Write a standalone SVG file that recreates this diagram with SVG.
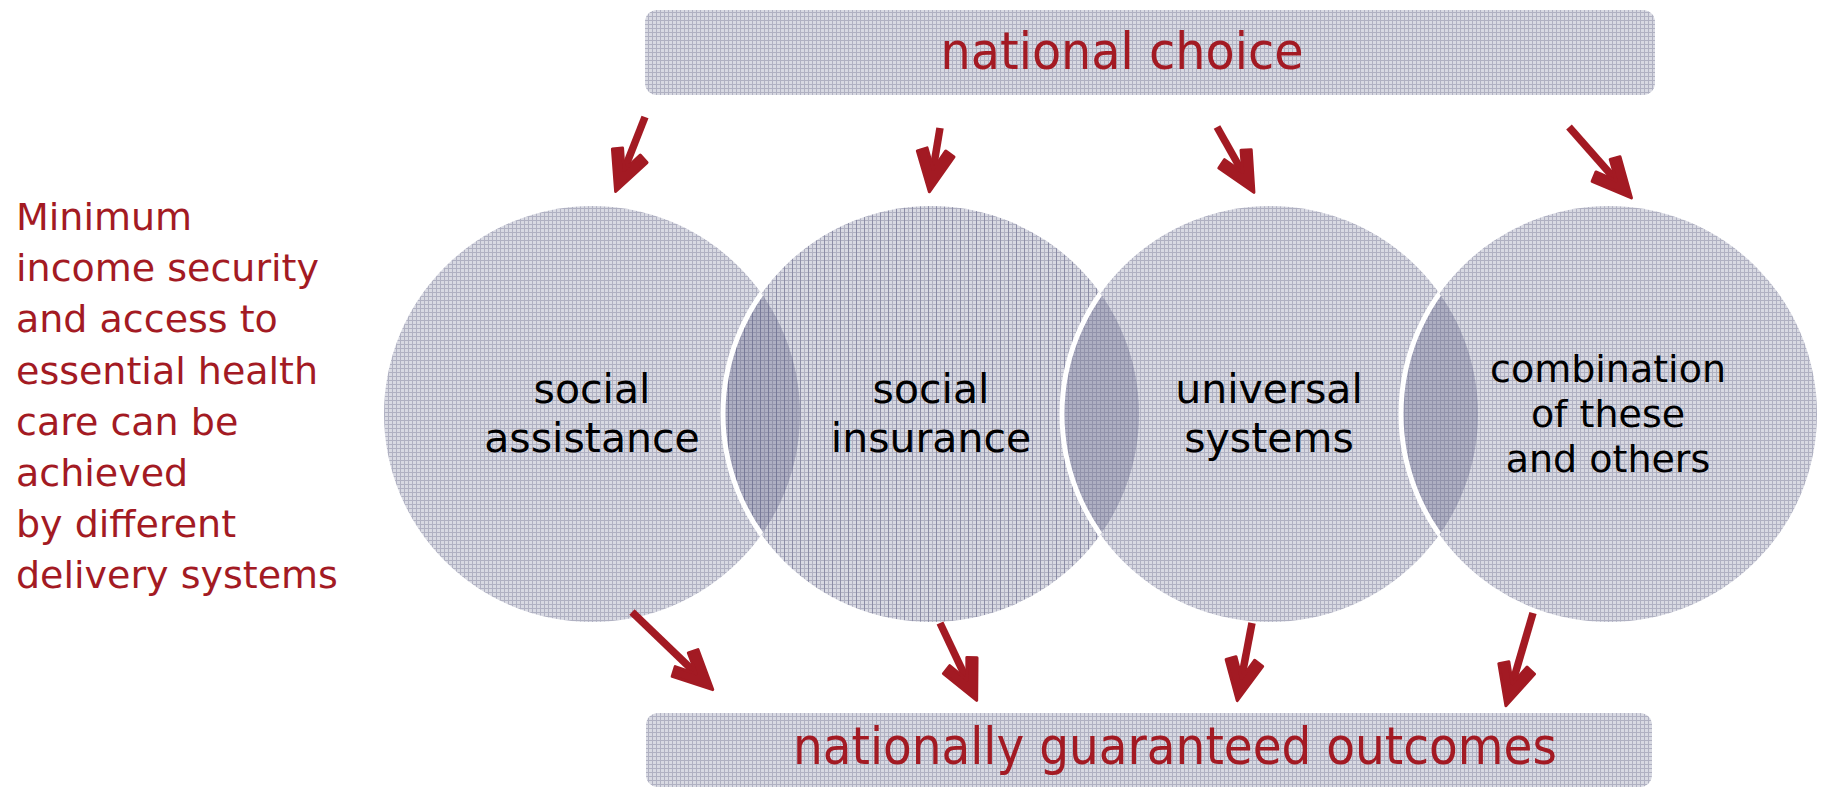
<svg xmlns="http://www.w3.org/2000/svg" width="1824" height="788" viewBox="0 0 1824 788">
<style>
.red{fill:#a31a23;font-family:"DejaVu Sans","Verdana",sans-serif}
.side{font-size:38px}
.box{font-size:52px;text-anchor:middle}
.ct{fill:#000;font-family:"DejaVu Sans","Verdana",sans-serif;text-anchor:middle}
.arrow{stroke:#a31a23;stroke-width:7.5;fill:none;marker-end:url(#head)}
.lens{fill:#4d4f78;fill-opacity:0.3}
.arc{fill:none;stroke:#ffffff;stroke-width:5}
</style>
<defs>
<pattern id="tex" width="4" height="4" patternUnits="userSpaceOnUse">
<rect width="4" height="4" fill="#d8d9e2"/>
<rect width="4" height="1" fill="#b0b1c2"/>
<rect width="1" height="4" fill="#b0b1c2"/>
</pattern>
<pattern id="tex2" width="8" height="4" patternUnits="userSpaceOnUse">
<rect width="8" height="4" fill="#d8d9e2"/>
<rect width="8" height="1" fill="#b0b1c2"/>
<rect x="4" width="1" height="4" fill="#b0b1c2"/>
<rect width="1" height="4" fill="#8c8da6"/>
</pattern>
<marker id="head" markerUnits="userSpaceOnUse" orient="auto" refX="0" refY="0" markerWidth="60" markerHeight="60" viewBox="-25 -25 50 50" overflow="visible">
<path d="M19,0 L-13,-15.5 L-16.8,-7.9 L0,0 L-16.8,7.9 L-13,15.5 Z" fill="#a31a23" stroke="#a31a23" stroke-width="2.5" stroke-linejoin="round"/>
</marker>
<clipPath id="c1"><circle cx="592" cy="414" r="208"/></clipPath>
<clipPath id="c2"><circle cx="931" cy="414" r="208"/></clipPath>
<clipPath id="c3"><circle cx="1270" cy="414" r="208"/></clipPath>
</defs>

<g id="left-text">
<text class="red side" x="16" y="230">Minimum</text>
<text class="red side" x="16" y="281">income security</text>
<text class="red side" x="16" y="332">and access to</text>
<text class="red side" x="16" y="384">essential health</text>
<text class="red side" x="16" y="435">care can be</text>
<text class="red side" x="16" y="486">achieved</text>
<text class="red side" x="16" y="537">by different</text>
<text class="red side" x="16" y="588">delivery systems</text>
</g>

<g id="national-choice">
<rect x="645" y="10" width="1010" height="85" rx="12" fill="url(#tex)"/>
<text class="red box" x="1122" y="69" textLength="363" lengthAdjust="spacingAndGlyphs">national choice</text>
</g>

<g id="outcomes">
<rect x="646" y="713" width="1006" height="74" rx="12" fill="url(#tex)"/>
<text class="red box" x="1175" y="764" textLength="764" lengthAdjust="spacingAndGlyphs">nationally guaranteed outcomes</text>
</g>

<g id="circles">
<g id="social-assistance">
<circle cx="592" cy="414" r="208" fill="url(#tex)"/>
</g>
<g id="social-insurance">
<circle cx="931" cy="414" r="208" fill="url(#tex2)"/>
</g>
<g id="universal-systems">
<circle cx="1270" cy="414" r="208" fill="url(#tex)"/>
</g>
<g id="combination">
<circle cx="1609" cy="414" r="208" fill="url(#tex)"/>
</g>
<g id="overlaps">
<circle cx="931" cy="414" r="208" class="lens" clip-path="url(#c1)"/>
<circle cx="1270" cy="414" r="208" class="lens" clip-path="url(#c2)"/>
<circle cx="1609" cy="414" r="208" class="lens" clip-path="url(#c3)"/>
<circle cx="931" cy="414" r="208" class="arc" clip-path="url(#c1)"/>
<circle cx="1270" cy="414" r="208" class="arc" clip-path="url(#c2)"/>
<circle cx="1609" cy="414" r="208" class="arc" clip-path="url(#c3)"/>
</g>
<g id="labels">
<text class="ct" font-size="41" x="592" y="403">social</text>
<text class="ct" font-size="41" x="592" y="452">assistance</text>
<text class="ct" font-size="41" x="931" y="403">social</text>
<text class="ct" font-size="41" x="931" y="452">insurance</text>
<text class="ct" font-size="41" x="1269" y="403">universal</text>
<text class="ct" font-size="41" x="1269" y="452">systems</text>
<text class="ct" font-size="38" x="1608" y="382">combination</text>
<text class="ct" font-size="38" x="1608" y="427">of these</text>
<text class="ct" font-size="38" x="1608" y="472">and others</text>
</g>
</g>

<g id="connectors">
<line class="arrow" x1="645" y1="117" x2="624" y2="170.3"/>
<line class="arrow" x1="940" y1="128" x2="933.1" y2="169.3"/>
<line class="arrow" x1="1217" y1="127" x2="1242.7" y2="172.5"/>
<line class="arrow" x1="1569" y1="127" x2="1616.4" y2="180.8"/>
<line class="arrow" x1="632" y1="612" x2="696.3" y2="673.8"/>
<line class="arrow" x1="940" y1="623" x2="966.9" y2="679.8"/>
<line class="arrow" x1="1252" y1="623" x2="1241.5" y2="678.3"/>
<line class="arrow" x1="1533" y1="613" x2="1512.3" y2="683.8"/>
</g>
</svg>
